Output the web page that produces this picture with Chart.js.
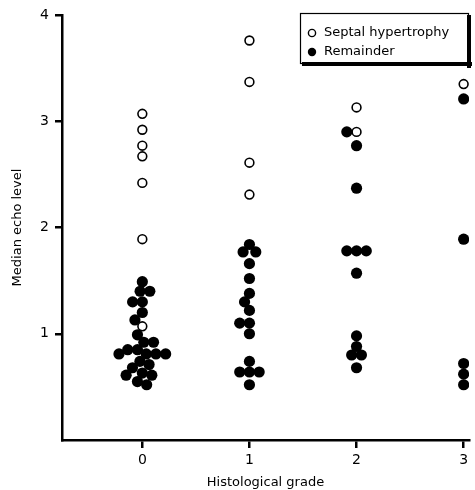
<!DOCTYPE html>
<html>
<head>
<meta charset="utf-8">
<script src="https://cdn.jsdelivr.net/npm/chart.js@4.4.0/dist/chart.umd.min.js"></script>
<style>
  html, body { margin: 0; padding: 0; background: #fff; }
</style>
</head>
<body>
<canvas id="chart" width="475" height="490"></canvas>
<script>
/* ========= DATA ========= */
const grades = [0, 1, 2, 3];
const yTicks = [1, 2, 3, 4];
const seriesNames = ["Septal hypertrophy", "Remainder"];

// median echo level per histological grade
const septalG0 = [3.07, 2.92, 2.77, 2.67, 2.42, 1.89, 1.07];
const septalG1 = [3.76, 3.37, 2.61, 2.31];
const septalG2 = [3.13, 2.90];
const septalG3 = [3.35];

const remainderG0 = [1.49, 1.40, 1.40, 1.30, 1.30, 1.20, 1.13, 0.99, 0.92, 0.92,
  0.85, 0.85, 0.81, 0.81, 0.81, 0.81, 0.74, 0.71, 0.68, 0.63, 0.61, 0.61, 0.55, 0.52];
const remainderG1 = [1.84, 1.77, 1.77, 1.66, 1.52, 1.38, 1.30, 1.22, 1.10, 1.10,
  1.00, 0.74, 0.64, 0.64, 0.64, 0.52];
const remainderG2 = [2.90, 2.77, 2.37, 1.78, 1.78, 1.78, 1.57, 0.98, 0.88, 0.80, 0.80, 0.68];
const remainderG3 = [3.21, 1.89, 0.72, 0.62, 0.52];

/* ========= SWARM ========= */
// spreads equal values sideways so the dots don't sit on top of each other
const PX_X = 108, PX_Y = 106, DIAM = 9.8;

function swarm(grade, groups) {
  const placed = [];
  return groups.map(vals => vals.map(v => {
    const y = v * PX_Y;
    const near = placed.filter(p => Math.abs(p.y - y) < DIAM);
    const cands = [0];
    near.forEach(p => {
      const h = Math.sqrt(DIAM * DIAM - (p.y - y) ** 2);
      cands.push(p.x - h, p.x + h);
    });
    cands.sort((a, b) => Math.abs(a) - Math.abs(b) || a - b);
    const x = cands.find(c => near.every(p => (p.x - c) ** 2 + (p.y - y) ** 2 >= DIAM * DIAM - 0.01));
    placed.push({ x, y });
    return { x: grade + x / PX_X, y: v };
  }));
}

const septalPts = [], remainderPts = [];
[[septalG0, remainderG0], [septalG1, remainderG1], [septalG2, remainderG2], [septalG3, remainderG3]]
  .forEach((pair, i) => {
    const [s, r] = swarm(grades[i], pair);
    septalPts.push(...s);
    remainderPts.push(...r);
  });

/* ========= LEGEND ========= */
const FONT = "'DejaVu Sans', sans-serif";

const legendBox = {
  id: "legendBox",
  afterDraw(chart) {
    const c = chart.ctx;
    const x0 = 300, y0 = 13, w = 168, h = 50;
    c.save();
    c.fillStyle = "#fff";
    c.fillRect(x0, y0, w, h);
    c.strokeStyle = "#000";
    c.lineWidth = 1.2;
    c.strokeRect(x0 + 0.5, y0 + 0.5, w, h);
    c.fillStyle = "#000";
    c.fillRect(x0 + w - 1, y0 + 2, 4, h + 3);
    c.fillRect(x0 + 2, y0 + h - 1, w + 2, 4);

    c.font = "13px " + FONT;
    c.textBaseline = "middle";
    c.fillText(seriesNames[0], 324, 33);
    c.fillText(seriesNames[1], 324, 52);

    c.lineWidth = 1.4;
    c.beginPath();
    c.arc(312, 33, 3.6, 0, Math.PI * 2);
    c.fillStyle = "#fff";
    c.fill();
    c.stroke();
    c.beginPath();
    c.arc(312, 52, 4.2, 0, Math.PI * 2);
    c.fillStyle = "#000";
    c.fill();
    c.restore();
  }
};

/* ========= CHART ========= */
const chart = new Chart(document.getElementById("chart"), {
  type: "scatter",
  data: {
    datasets: [
      {
        label: seriesNames[0],
        data: septalPts,
        pointRadius: 4.4,
        pointBorderWidth: 1.6,
        pointBackgroundColor: "#fff",
        pointBorderColor: "#000"
      },
      {
        label: seriesNames[1],
        data: remainderPts,
        pointRadius: 5.6,
        pointBorderWidth: 0,
        pointBackgroundColor: "#000",
        pointBorderColor: "#000"
      }
    ]
  },
  options: {
    responsive: false,
    animation: false,
    devicePixelRatio: 1,
    layout: { padding: { top: 15, right: 5, left: 0, bottom: 0 } },
    plugins: { legend: { display: false }, tooltip: { enabled: false } },
    scales: {
      x: {
        type: "linear",
        min: -0.75,
        max: 3.05,
        afterBuildTicks: s => { s.ticks = grades.map(v => ({ value: v })); },
        afterFit: s => { s.height = 50; },
        grid: { drawOnChartArea: false, drawTicks: true, tickLength: 8, color: "#000", lineWidth: 2.5 },
        border: { display: true, color: "#000", width: 2.5 },
        ticks: { color: "#000", font: { family: FONT, size: 14 }, padding: 4, maxRotation: 0 },
        title: {
          display: true, text: "Histological grade", color: "#000",
          font: { family: FONT, size: 13 }, padding: { top: 0, bottom: 0 }
        }
      },
      y: {
        type: "linear",
        min: 0,
        max: 4,
        afterBuildTicks: s => { s.ticks = yTicks.map(v => ({ value: v })); },
        afterFit: s => { s.width = 62; },
        grid: { drawOnChartArea: false, drawTicks: true, tickLength: 7, color: "#000", lineWidth: 2.5 },
        border: { display: true, color: "#000", width: 2.5 },
        ticks: { color: "#000", font: { family: FONT, size: 14 }, padding: 6 },
        title: {
          display: true, text: "Median echo level", color: "#000",
          font: { family: FONT, size: 13 }, padding: { top: 10, bottom: 0 }
        }
      }
    }
  },
  plugins: [legendBox]
});
</script>
</body>
</html>
